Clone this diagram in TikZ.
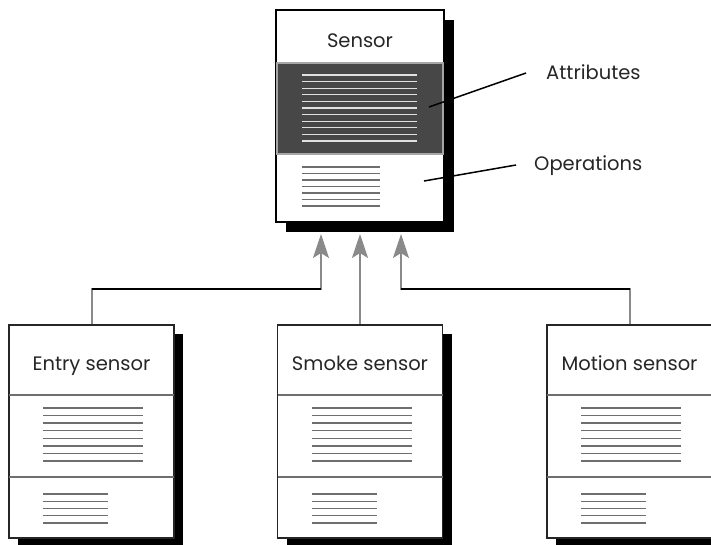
\documentclass[tikz,border=0pt]{standalone}
\usepackage{fontspec}
\setmainfont{Poppins}
\usetikzlibrary{arrows.meta,shadows}
\definecolor{attrdark}{HTML}{474747}
\definecolor{stemgray}{HTML}{8A8A8A}
\definecolor{rulegray}{HTML}{6E6E6E}
\tikzset{
  supbox/.style={draw=black, line width=1.6pt, fill=white, inner sep=0pt,
    minimum width=168pt, minimum height=212pt,
    general shadow={fill=black, shadow xshift=10pt, shadow yshift=-10pt}},
  subbox/.style={draw=black!85, line width=1.4pt, fill=white, inner sep=0pt,
    minimum width=165pt, minimum height=213pt,
    general shadow={fill=black, shadow xshift=9pt, shadow yshift=-9pt}},
  attrbox/.style={draw=black!35, line width=1.4pt, fill=attrdark, inner sep=0pt,
    minimum width=166pt, minimum height=91pt},
  title/.style={font=\fontsize{19.5}{23}\selectfont, text=black!85, inner sep=0pt, anchor=base},
  divider/.style={draw=rulegray, line width=1.6pt},
  textline/.style={draw=rulegray, line width=1.3pt},
  darkline/.style={draw=black!12, line width=1.3pt},
  stem/.style={draw=stemgray, line width=2pt},
  bar/.style={draw=black, line width=1.9pt},
  leader/.style={draw=black, line width=1.5pt},
  tip/.style={-{Stealth[length=24pt, width=16pt, inset=5pt, fill=stemgray]}}
}
\begin{document}
\begin{tikzpicture}[x=1pt, y=-1pt]
\clip (0,0) rectangle (711,544);
\fill[white] (0,0) rectangle (711,544);

% superclass
\node[supbox] (sensor) at (360,116) {};
\node[attrbox] (sensorattr) at (360,108.5) {};
\node[title] (sensorttl) at (360,47) {Sensor};
\foreach \k in {0,...,10}
  \draw[darkline] (302,75+6.6*\k) -- (417,75+6.6*\k);
\foreach \k in {0,...,6}
  \draw[textline] (302,167+6.5*\k) -- (380,167+6.5*\k);

% labels
\node[title, anchor=base west] (attrlbl) at (546,79) {Attributes};
\node[title, anchor=base west] (opslbl) at (534,170) {Operations};
\coordinate (attrpt) at (429,107);
\coordinate (attrend) at (526,73);
\coordinate (opspt) at (424,181);
\coordinate (opsend) at (516,165);
\draw[leader] (attrpt) -- (attrend);
\draw[leader] (opspt) -- (opsend);

% subclasses
\foreach \cx/\nm/\ttl in {91.5/entry/Entry sensor, 360/smoke/Smoke sensor, 629.5/motion/Motion sensor} {
  \node[subbox] (\nm) at (\cx,431.5) {};
  \node[title] (\nm-ttl) at (\cx,370) {\ttl};
  \draw[divider] (\cx-82.5,395) -- (\cx+82.5,395);
  \draw[divider] (\cx-82.5,477) -- (\cx+82.5,477);
  \foreach \k in {0,...,7}
    \draw[textline] (\cx-48.5,408+7.57*\k) -- (\cx+51.5,408+7.57*\k);
  \foreach \k in {0,...,4}
    \draw[textline] (\cx-48.5,494+7.25*\k) -- (\cx+16.5,494+7.25*\k);
}

% inheritance
\coordinate (tipA) at (321,234);
\coordinate (tipB) at (360,234);
\coordinate (tipC) at (401,234);
\coordinate (elbowA) at (321,289);
\coordinate (elbowC) at (401,289);
\draw[stem, tip] (entry.north) |- (elbowA) -- (tipA);
\draw[stem, tip] (smoke.north) -- (tipB);
\draw[stem, tip] (motion.north) |- (elbowC) -- (tipC);
\draw[bar] (entry.north |- elbowA) -- (elbowA);
\draw[bar] (elbowC) -- (motion.north |- elbowC);
\end{tikzpicture}
\end{document}
